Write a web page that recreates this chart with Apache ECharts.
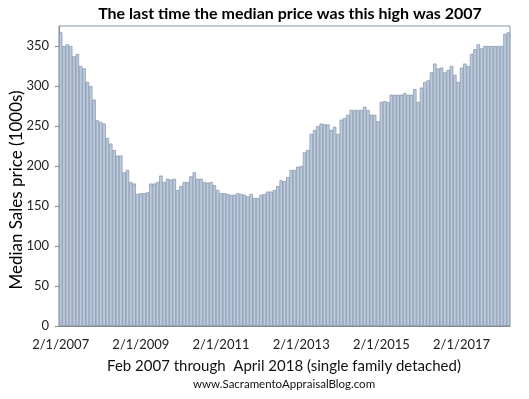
<!DOCTYPE html>
<html>
<head>
<meta charset="utf-8">
<script src="https://cdn.jsdelivr.net/npm/echarts@6/dist/echarts.min.js"></script>
<style>
  html, body { margin: 0; padding: 0; background: #fff; }
  #chart { width: 529px; height: 399px; }
</style>
</head>
<body>
<div id="chart"></div>
<script>
// 月度中位价（千美元），2007年2月 - 2018年4月
const prices2007to2010 = [
    367, 350, 352, 350, 337, 340, 325, 322, 305, 300, 283,
    257, 255, 253, 235, 228, 220, 213, 213, 192, 195, 180, 178,
    165, 166, 166, 167, 178, 178, 180, 188, 180, 184, 183, 184, 170
];
const prices2010to2013 = [
    175, 180, 180, 187, 192, 184, 184, 180, 179, 180, 176, 170,
    166, 166, 165, 164, 164, 166, 165, 164, 162, 165, 160, 160,
    164, 165, 168, 168, 170, 175, 182, 181, 186, 195, 195, 199,
    200, 217, 220, 240, 245, 250, 253, 252, 252, 245, 249, 240
];
const prices2014to2018 = [
    258, 260, 264, 270, 270, 270, 270, 274, 270, 264, 264, 256,
    280, 281, 280, 289, 289, 289, 289, 291, 289, 289, 296, 280,
    298, 305, 307, 317, 328, 322, 323, 317, 320, 325, 314, 305,
    323, 328, 325, 340, 346, 352, 347, 350, 350, 350, 350, 350,
    350, 365, 367
];
const prices = prices2007to2010.concat(prices2010to2013, prices2014to2018);

// 横轴类别：每月一个
const startYear = 2007;
const startMonth = 2;
const months = [];
for (let i = 0; i < prices.length; i++) {
    const m = (startMonth - 1 + i) % 12 + 1;
    const y = startYear + Math.floor((startMonth - 1 + i) / 12);
    months.push(m + '/1/' + y);
}

const titleText = 'The last time the median price was this high was 2007';
const yAxisName = 'Median Sales price (1000s)';
const xAxisName = 'Feb 2007 through  April 2018 (single family detached)';
const footerText = 'www.SacramentoAppraisalBlog.com';

const chart = echarts.init(document.getElementById('chart'));

const option = {
    animation: false,
    grid: {
        left: 59,
        right: 19,
        top: 26,
        bottom: 73,
        show: true,
        borderColor: '#8796a6',
        borderWidth: 1
    },
    xAxis: {
        type: 'category',
        data: months,
        boundaryGap: true,
        axisLine: { lineStyle: { color: '#8a8a8a', width: 1 } },
        axisTick: { interval: 23, length: 5, lineStyle: { color: '#8a8a8a' } },
        axisLabel: {
            interval: 23,
            margin: 12,
            color: '#222',
            fontFamily: 'Lato',
            fontSize: 13
        },
        splitLine: { show: false }
    },
    yAxis: {
        type: 'value',
        min: 0,
        max: 375,
        interval: 50,
        axisLine: { show: true, lineStyle: { color: '#8a8a8a', width: 1 } },
        axisTick: { show: true, length: 4, lineStyle: { color: '#8a8a8a' } },
        axisLabel: {
            showMaxLabel: false,
            margin: 10,
            color: '#222',
            fontFamily: 'Lato',
            fontSize: 13
        },
        splitLine: { show: false }
    },
    series: [
        {
            type: 'bar',
            data: prices,
            barCategoryGap: 0,
            itemStyle: {
                color: '#bccbdf',
                borderColor: '#76869a',
                borderWidth: 0.6
            }
        }
    ],
    graphic: [
        {
            type: 'text',
            x: 290,
            y: 14,
            style: {
                text: titleText,
                font: 'bold 16px Lato',
                fill: '#000',
                align: 'center',
                verticalAlign: 'middle'
            }
        },
        {
            type: 'text',
            x: 284,
            y: 366,
            style: {
                text: xAxisName,
                font: '15px Lato',
                fill: '#111',
                align: 'center',
                verticalAlign: 'middle'
            }
        },
        {
            type: 'text',
            x: 284,
            y: 384,
            style: {
                text: footerText,
                font: '11.5px Lato',
                fill: '#111',
                align: 'center',
                verticalAlign: 'middle'
            }
        },
        {
            type: 'text',
            x: 17,
            y: 190,
            rotation: Math.PI / 2,
            style: {
                text: yAxisName,
                font: '17px Lato',
                fill: '#000',
                align: 'center',
                verticalAlign: 'middle'
            }
        }
    ]
};

chart.setOption(option);
</script>
</body>
</html>
